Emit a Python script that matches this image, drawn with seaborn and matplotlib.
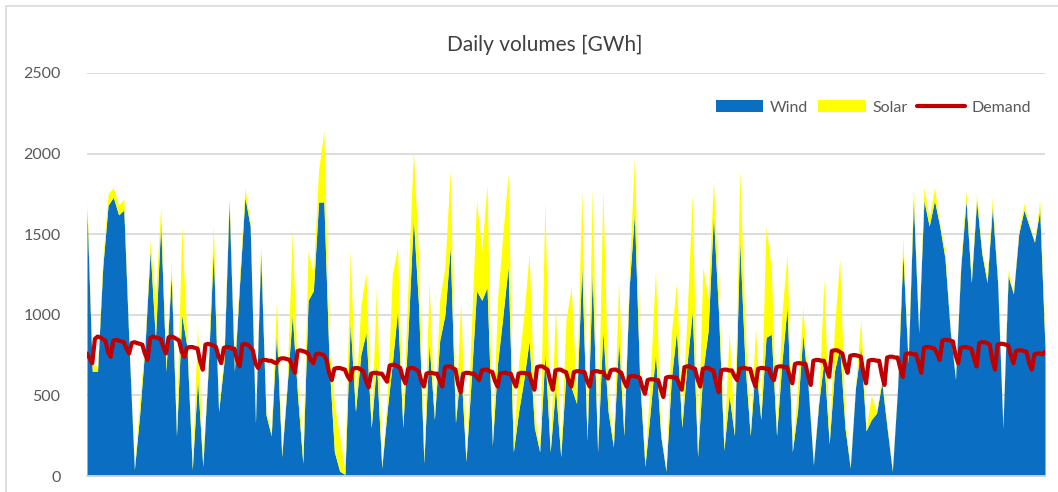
import numpy as np
import matplotlib
matplotlib.use("Agg")
import matplotlib.pyplot as plt
import seaborn as sns
from matplotlib.patches import Rectangle

# ---- data (GWh) ----
area_days = list(range(0, 365, 2))  # every second day of the year

wind = [1650, 650, 650, 1300, 1680, 1730, 1620, 1650, 800, 40,
        380, 800, 1400, 850, 1570, 650, 1250, 250, 1000, 800,
        40, 600, 60, 650, 1400, 400, 700, 1700, 650, 1200,
        1730, 1550, 330, 1380, 380, 250, 890, 120, 550, 1000,
        500, 80, 1090, 1150, 1700, 1700, 700, 150, 30, 10,
        950, 400, 750, 890, 300, 700, 50, 400, 700, 1030,
        300, 900, 1600, 1050, 80, 820, 350, 840, 1000, 1420,
        330, 680, 90, 600, 1150, 1090, 1170, 190, 700, 990,
        1300, 150, 400, 600, 840, 300, 150, 760, 150, 550,
        120, 650, 550, 450, 1300, 220, 1260, 150, 900, 400,
        180, 840, 250, 1170, 1630, 600, 60, 400, 760, 250,
        30, 600, 900, 300, 700, 1020, 120, 650, 900, 1620,
        1000, 160, 500, 250, 1460, 700, 250, 700, 350, 860,
        880, 250, 700, 1050, 150, 410, 880, 550, 70, 450,
        720, 200, 650, 800, 300, 50, 550, 800, 280, 350,
        390, 580, 300, 30, 550, 1380, 700, 1710, 890, 1710,
        1550, 1710, 1550, 1350, 900, 600, 1300, 1710, 1200, 1710,
        1380, 1200, 1670, 1200, 300, 1240, 1130, 1500, 1650, 1550,
        1450, 1650, 800]

solar = [50, 50, 30, 50, 70, 60, 60, 70, 30, 10,
         90, 30, 60, 250, 100, 50, 70, 50, 550, 50,
         30, 330, 20, 30, 160, 30, 50, 40, 30, 50,
         60, 30, 20, 60, 40, 20, 200, 20, 30, 520,
         100, 60, 310, 100, 200, 440, 100, 300, 220, 30,
         450, 80, 300, 370, 30, 470, 10, 70, 550, 390,
         50, 300, 420, 310, 20, 390, 20, 250, 300, 480,
         20, 410, 10, 300, 560, 310, 640, 10, 400, 510,
         575, 50, 300, 400, 540, 100, 10, 950, 10, 500,
         10, 320, 620, 50, 470, 10, 530, 10, 880, 100,
         20, 370, 30, 80, 350, 80, 20, 200, 520, 20,
         10, 280, 300, 70, 300, 730, 10, 650, 200, 210,
         150, 20, 400, 20, 440, 250, 20, 220, 20, 690,
         410, 20, 300, 330, 10, 150, 170, 10, 10, 20,
         500, 20, 270, 550, 50, 10, 10, 170, 10, 150,
         10, 40, 20, 10, 10, 100, 10, 80, 10, 80,
         50, 80, 20, 50, 10, 10, 30, 60, 30, 40,
         20, 30, 60, 10, 10, 40, 10, 20, 40, 10,
         10, 60, 80]

demand = [
    760, 730, 700, 850, 865, 860, 850,
    840, 770, 740, 840, 845, 840, 835,
    830, 790, 760, 825, 830, 825, 820,
    815, 760, 720, 855, 865, 860, 855,
    850, 800, 760, 860, 865, 860, 850,
    840, 770, 740, 795, 800, 800, 795,
    790, 710, 660, 815, 820, 815, 810,
    800, 740, 700, 795, 800, 800, 790,
    790, 720, 680, 815, 820, 815, 800,
    780, 700, 670, 715, 720, 720, 715,
    715, 705, 700, 725, 730, 730, 725,
    720, 680, 640, 775, 780, 775, 770,
    760, 720, 700, 755, 760, 755, 750,
    720, 640, 595, 665, 670, 670, 665,
    660, 620, 595, 665, 670, 670, 660,
    650, 590, 550, 635, 640, 640, 635,
    635, 610, 585, 685, 690, 690, 680,
    670, 610, 575, 665, 670, 670, 660,
    650, 590, 555, 635, 640, 640, 635,
    635, 590, 555, 675, 680, 680, 670,
    660, 570, 520, 635, 640, 640, 635,
    635, 615, 595, 655, 660, 660, 650,
    645, 590, 555, 635, 640, 640, 635,
    635, 590, 555, 635, 640, 640, 635,
    635, 580, 535, 675, 680, 680, 670,
    660, 590, 535, 655, 660, 660, 650,
    645, 590, 555, 645, 650, 650, 645,
    645, 590, 555, 645, 650, 650, 645,
    645, 620, 605, 655, 660, 660, 650,
    640, 590, 555, 615, 620, 620, 615,
    610, 550, 510, 595, 600, 600, 595,
    595, 540, 490, 610, 615, 615, 610,
    610, 570, 535, 675, 680, 680, 670,
    665, 600, 555, 665, 670, 670, 660,
    655, 580, 520, 655, 660, 660, 655,
    655, 620, 595, 665, 670, 670, 665,
    665, 600, 555, 665, 670, 670, 665,
    665, 620, 595, 675, 680, 680, 675,
    675, 620, 575, 695, 700, 700, 695,
    695, 620, 565, 715, 720, 720, 715,
    715, 660, 615, 775, 780, 780, 770,
    760, 690, 640, 745, 750, 750, 745,
    740, 640, 575, 715, 720, 720, 715,
    715, 630, 565, 735, 740, 740, 735,
    735, 670, 615, 755, 760, 760, 755,
    755, 700, 640, 795, 800, 800, 795,
    790, 760, 720, 840, 845, 845, 840,
    835, 750, 700, 795, 800, 800, 795,
    790, 730, 680, 825, 830, 830, 825,
    815, 720, 660, 815, 820, 820, 815,
    810, 750, 700, 775, 780, 780, 775,
    770, 700, 660, 755, 760, 760, 755,
    770]
demand_days = list(range(len(demand)))

y_ticks = [0, 500, 1000, 1500, 2000, 2500]
series_names = ["Wind", "Solar", "Demand"]
title = "Daily volumes [GWh]"

# ---- styling ----
sns.set_theme(style="white")
plt.rcParams["font.family"] = ["Lato", "DejaVu Sans"]

W, H = 1058, 492
fig = plt.figure(figsize=(W / 100, H / 100), dpi=100)
ax = fig.add_axes([87 / W, 1 - 476 / H, (1045 - 87) / W, (476 - 73) / H])

grid_c = "#D9D9D9"
blue = "#0A6FC2"
yellow = "#FFFF00"
red = "#C00000"

ax.stackplot(area_days, wind, solar, colors=[blue, yellow],
             labels=series_names[:2], linewidth=0, zorder=2)
sns.lineplot(x=demand_days, y=demand, color=red, linewidth=3.0,
             ax=ax, label=series_names[2], zorder=3)

ax.set_xlim(0, 364)
ax.set_ylim(0, 2500)
ax.set_yticks(y_ticks)
ax.set_yticklabels([str(v) for v in y_ticks], color="#595959", fontsize=11.5)
ax.tick_params(axis="y", length=0, pad=19)
ax.set_xticks([])
ax.yaxis.grid(True, color=grid_c, linewidth=1.3, zorder=0)
ax.set_axisbelow(True)
for s in ["top", "right", "left"]:
    ax.spines[s].set_visible(False)
ax.spines["bottom"].set_color(grid_c)
ax.spines["bottom"].set_linewidth(1.3)
ax.set_xlabel("")
ax.set_ylabel("")

handles, labels = ax.get_legend_handles_labels()
order = [labels.index(n) for n in series_names]
leg = ax.legend([handles[i] for i in order], [labels[i] for i in order],
                loc="center right", bbox_to_anchor=(1.0, 0.915), ncol=3,
                frameon=False, fontsize=11.5, handlelength=3.0,
                handleheight=0.8, columnspacing=0.6, handletextpad=0.4,
                labelcolor="#595959")

fig.text(545 / W, 1 - 45 / H, title, ha="center", va="center",
         fontsize=15, color="#404040")

# outer chart frame
fig.patches.append(Rectangle((6 / W, -0.05), 1.1, 1 - 6 / H + 0.05,
                             transform=fig.transFigure, fill=False,
                             edgecolor=grid_c, linewidth=1.2))

fig.savefig("out.png", dpi=100)
